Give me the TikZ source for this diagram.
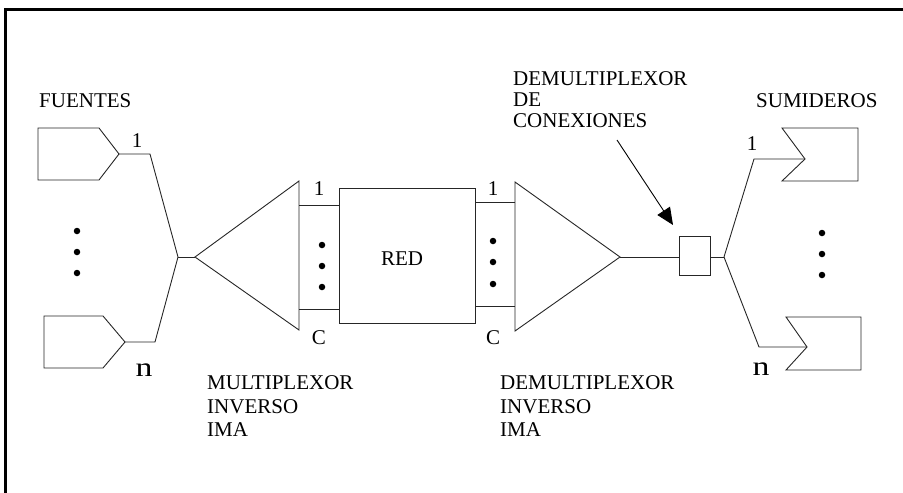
\documentclass[tikz,border=0pt]{standalone}
\usepackage{fontspec}
\setmainfont{Liberation Serif}
\usetikzlibrary{arrows.meta}
\begin{document}
\begin{tikzpicture}[x=1pt,y=-1pt,
  ln/.style={line width=0.9pt,draw=black!85},
  lbl/.style={inner sep=0pt,anchor=base west,font=\fontsize{21}{21}\selectfont},
  num/.style={inner sep=0pt,anchor=base,font=\fontsize{21}{21}\selectfont},
  bign/.style={inner sep=0pt,anchor=base,font=\fontsize{27}{27}\selectfont},
  dot/.style={fill=black,circle,inner sep=0pt,minimum size=6.5pt}]
\useasboundingbox (0,0) rectangle (903,493);
% frame
\draw[line width=3.5pt] (5.5,493) -- (5.5,9.5) -- (903,9.5);

% sources
\draw[ln] (38,128) -- (99,128) -- (119,154) -- (99,180) -- (38,180) -- cycle;
\coordinate (s1) at (119,154);
\draw[ln] (44,316) -- (103,316) -- (125,342) -- (103,368) -- (44,368) -- cycle;
\coordinate (sn) at (125,342);
\coordinate (jl) at (178,257);
\draw[ln] (s1) -- (150,154) -- (jl);
\draw[ln] (sn) -- (155,342) -- (jl);
\node[dot] (dl1) at (77,231) {};
\node[dot] (dl2) at (77,252) {};
\node[dot] (dl3) at (77,273) {};
\node[lbl] (fuentes) at (39,107) {FUENTES};
\node[num] (l1) at (137,147) {1};
\node[bign] (ln) at (144,376) {\scalebox{1.25}[1]{n}};

% multiplexer
\coordinate (mt) at (195,257);
\draw[ln] (jl) -- (mt);
\draw[ln] (mt) -- (299,181) -- (299,330) -- cycle;
\draw[ln] (299,205) -- (339,205);
\draw[ln] (299,309) -- (339,309);
\node[dot] (dm1) at (322,245) {};
\node[dot] (dm2) at (322,266) {};
\node[dot] (dm3) at (322,287) {};
\node[num] (m1) at (319,195) {1};
\node[num] (mc) at (319,344) {C};

% network
\node[ln,rectangle,minimum width=136pt,minimum height=135pt,inner sep=0pt] (red) at (407,255.5) {};
\node[num] (redt) at (402,265) {RED};

% demultiplexer
\draw[ln] (475,202) -- (515,202);
\draw[ln] (475,306) -- (515,306);
\coordinate (dt) at (620,257);
\draw[ln] (515,182) -- (dt) -- (515,331) -- cycle;
\node[dot] (dd1) at (493,241) {};
\node[dot] (dd2) at (493,262) {};
\node[dot] (dd3) at (493,284) {};
\node[num] (d1) at (493,195) {1};
\node[num] (dc) at (493,344) {C};

% connection demux box
\node[ln,rectangle,minimum width=31pt,minimum height=39pt,inner sep=0pt] (cbox) at (694.5,255.5) {};
\draw[ln] (dt) -- (cbox.west |- dt);
\coordinate (jr) at (724,257);
\draw[ln] (cbox.east |- jr) -- (jr);
\coordinate (arrs) at (617,140);
\coordinate (arre) at (673,225);
\draw[line width=0.9pt,-{Triangle[length=17pt,width=15pt]}] (arrs) -- (arre);
\node[lbl] (dc1) at (513,85) {DEMULTIPLEXOR};
\node[lbl] (dc2) at (513,106) {DE};
\node[lbl] (dc3) at (513,127) {CONEXIONES};

% sinks
\draw[ln] (782,128) -- (858,128) -- (858,181) -- (782,181) -- (805,159) -- cycle;
\coordinate (k1) at (805,159);
\draw[ln] (786,317) -- (861,317) -- (861,370) -- (786,370) -- (807,347) -- cycle;
\coordinate (kn) at (807,347);
\draw[ln] (jr) -- (754,159) -- (k1);
\draw[ln] (jr) -- (759,347) -- (kn);
\node[dot] (dr1) at (822,233) {};
\node[dot] (dr2) at (822,254) {};
\node[dot] (dr3) at (822,275) {};
\node[lbl] (sumideros) at (756,107) {SUMIDEROS};
\node[num] (r1) at (752,150) {1};
\node[bign] (rn) at (761,375) {\scalebox{1.25}[1]{n}};

% captions
\node[lbl] (mux1) at (207,389) {MULTIPLEXOR};
\node[lbl] (mux2) at (207,413) {INVERSO};
\node[lbl] (mux3) at (207,436) {IMA};
\node[lbl] (dmx1) at (500,389) {DEMULTIPLEXOR};
\node[lbl] (dmx2) at (500,413) {INVERSO};
\node[lbl] (dmx3) at (500,436) {IMA};
\end{tikzpicture}
\end{document}
